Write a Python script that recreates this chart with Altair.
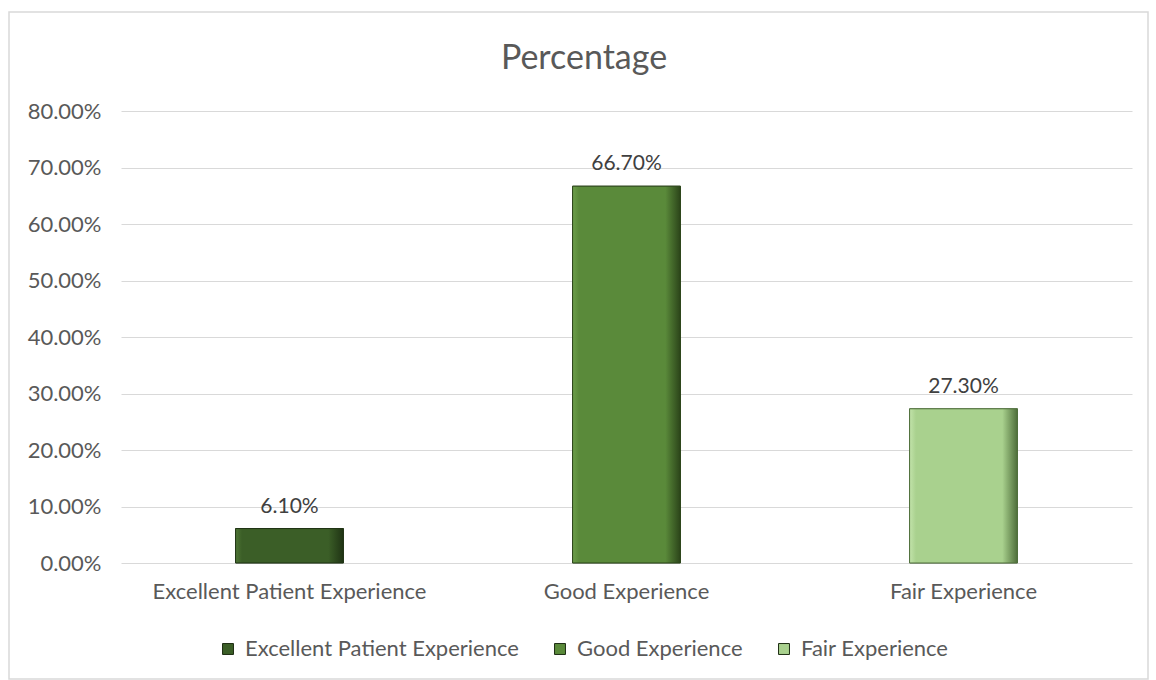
import altair as alt
import pandas as pd

categories = ["Excellent Patient Experience", "Good Experience", "Fair Experience"]
values = [0.061, 0.667, 0.273]
colors = ["#3b5e27", "#5a8a3a", "#a9d18e"]
edge_colors = ["#1f3314", "#2b4419", "#4e6e3a"]
highlight_colors = ["#4e7535", "#6d9e4b", "#c2e3aa"]
y_ticks = [0, 0.1, 0.2, 0.3, 0.4, 0.5, 0.6, 0.7, 0.8]
title_text = "Percentage"

df = pd.DataFrame({"category": categories, "value": values})

FONT = "Lato"
TXT = "#595959"

x_enc = alt.X(
    "category:N",
    sort=categories,
    scale=alt.Scale(paddingInner=0.68, paddingOuter=0.34),
    axis=alt.Axis(title=None, labelAngle=0, labelFont=FONT, labelFontSize=22,
                  labelColor=TXT, ticks=False, domain=False, labelPadding=18,
                  grid=False, labelLimit=0),
)
y_enc = alt.Y(
    "value:Q",
    scale=alt.Scale(domain=[0, 0.8], nice=False),
    axis=alt.Axis(title=None, values=y_ticks, format=".2%", labelFont=FONT,
                  labelFontSize=22, labelColor=TXT, ticks=False, domain=False,
                  labelPadding=20, grid=True, gridColor="#d9d9d9", gridWidth=1.2),
)

base = alt.Chart(df)

legend_bars = base.mark_bar(stroke="#1e2e14", strokeWidth=0.5).encode(
    x=x_enc,
    y=y_enc,
    color=alt.Color(
        "category:N",
        sort=categories,
        scale=alt.Scale(domain=categories, range=colors),
        legend=alt.Legend(
            title=None, orient="none", direction="horizontal",
            legendX=96, legendY=527, labelFont=FONT, labelFontSize=22,
            labelColor=TXT, symbolType="square", symbolSize=120,
            symbolStrokeColor="#1e2e14", symbolStrokeWidth=1,
            columnPadding=30, labelOffset=6, labelLimit=0,
        ),
    ),
)

layers = [legend_bars]
for cat, c, e, h in zip(categories, colors, edge_colors, highlight_colors):
    grad = alt.Gradient(
        gradient="linear", x1=0, x2=1, y1=0, y2=0,
        stops=[
            alt.GradientStop(color=h, offset=0),
            alt.GradientStop(color=c, offset=0.06),
            alt.GradientStop(color=c, offset=0.86),
            alt.GradientStop(color=e, offset=1),
        ],
    )
    layers.append(
        base.transform_filter(alt.datum.category == cat)
        .mark_bar(color=grad, stroke=e, strokeWidth=1)
        .encode(x=x_enc, y=y_enc)
    )

labels = base.mark_text(baseline="bottom", dy=-12, font=FONT, fontSize=21,
                        color="#404040").encode(
    x=x_enc, y=y_enc, text=alt.Text("value:Q", format=".2%")
)
layers.append(labels)

single = alt.Chart(pd.DataFrame({"t": [title_text]}))

title = single.mark_text(font=FONT, fontSize=34, color=TXT, baseline="middle",
                         align="center").encode(
    text="t:N", x=alt.value(463), y=alt.value(-52)
)
layers.append(title)

frame = single.mark_rect(
    filled=False, stroke="#d9d9d9", strokeWidth=1.5
).encode(x=alt.value(-112), x2=alt.value(1027), y=alt.value(-99), y2=alt.value(568))
layers.append(frame)

chart = alt.layer(*layers).properties(
    width=1011,
    height=452,
    padding={"left": 121, "top": 111, "right": 24, "bottom": 117},
    autosize=alt.AutoSizeParams(type="none"),
    background="white",
).configure_view(stroke=None)

chart.save("out.html", embed_options={"renderer": "svg", "actions": False})
